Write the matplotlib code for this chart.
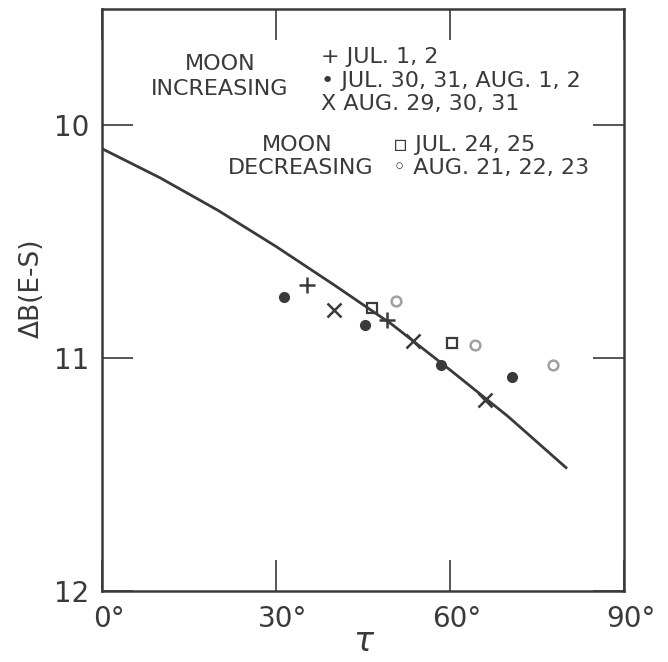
import matplotlib.pyplot as plt
from matplotlib.transforms import ScaledTranslation

# curve
curve_tau = [0, 10, 20, 30, 40, 50, 60, 70, 80]
curve_db = [10.10, 10.225, 10.365, 10.52, 10.685, 10.855, 11.05, 11.25, 11.47]

# observations
jul12_tau = [35.3, 49.1]
jul12_db = [10.687, 10.837]
jul30_tau = [31.4, 45.3, 58.4, 70.7]
jul30_db = [10.738, 10.858, 11.03, 11.082]
aug29_tau = [40.0, 53.6, 66.0]
aug29_db = [10.794, 10.927, 11.18]
jul24_tau = [46.6, 60.3]
jul24_db = [10.785, 10.936]
aug21_tau = [50.7, 64.3, 77.8]
aug21_db = [10.755, 10.944, 11.03]

x_ticks = [0, 30, 60, 90]
x_labels = ['0°', '30°', '60°', '90°']
y_ticks = [10, 11, 12]

ink = '#3a3a3a'
plt.rcParams['font.family'] = ['DejaVu Sans']

fig = plt.figure(figsize=(6.68, 6.62), dpi=100)
ax = fig.add_axes([102/668, 1 - 591/662, 522/668, 582/662])

ax.plot(curve_tau, curve_db, color=ink, lw=2)
ax.plot(jul12_tau, jul12_db, '+', color=ink, ms=12, mew=1.8)
ax.plot(jul30_tau, jul30_db, 'o', color=ink, ms=7)
ax.plot(aug29_tau, aug29_db, 'x', color=ink, ms=10, mew=1.8)
ax.plot(jul24_tau, jul24_db, 's', mfc='none', mec=ink, ms=7, mew=1.6)
ax.plot(aug21_tau, aug21_db, 'o', mfc='none', mec='#a0a0a0', ms=7, mew=1.8)

ax.set_xlim(0, 90)
ax.set_ylim(12, 9.5)
ax.set_xticks(x_ticks)
ax.set_xticklabels(x_labels)
ax.set_yticks(y_ticks)
ax.tick_params(direction='in', length=22, width=1.2, colors=ink,
               labelsize=20, top=True, right=True)
ax.tick_params(axis='x', pad=10)
ax.tick_params(axis='y', pad=9)
# keep the digits centred on the tick, degree sign hangs to the right
for lab in ax.get_xticklabels():
    lab.set_transform(lab.get_transform() + ScaledTranslation(5/72, 0, fig.dpi_scale_trans))
for s in ax.spines.values():
    s.set_color(ink)
    s.set_linewidth(1.8)

ax.set_ylabel('ΔB(E-S)', fontsize=19, color=ink)
ax.yaxis.set_label_coords(-0.11, 0.52)
ax.set_xlabel('τ', fontsize=24, color=ink, labelpad=-6, style='italic')

tk = dict(transform=ax.transAxes, fontsize=16, color=ink, va='center')
ax.text(0.226, 0.905, 'MOON', ha='center', **tk)
ax.text(0.226, 0.863, 'INCREASING', ha='center', **tk)
ax.text(0.42, 0.918, '+ JUL. 1, 2', ha='left', **tk)
ax.text(0.42, 0.876, '• JUL. 30, 31, AUG. 1, 2', ha='left', **tk)
ax.text(0.42, 0.836, 'X AUG. 29, 30, 31', ha='left', **tk)
ax.text(0.373, 0.766, 'MOON', ha='center', **tk)
ax.text(0.381, 0.727, 'DECREASING', ha='center', **tk)
ax.text(0.557, 0.766, '▫ JUL. 24, 25', ha='left', **tk)
ax.text(0.557, 0.727, '◦ AUG. 21, 22, 23', ha='left', **tk)

plt.savefig('out.png', dpi=100)
